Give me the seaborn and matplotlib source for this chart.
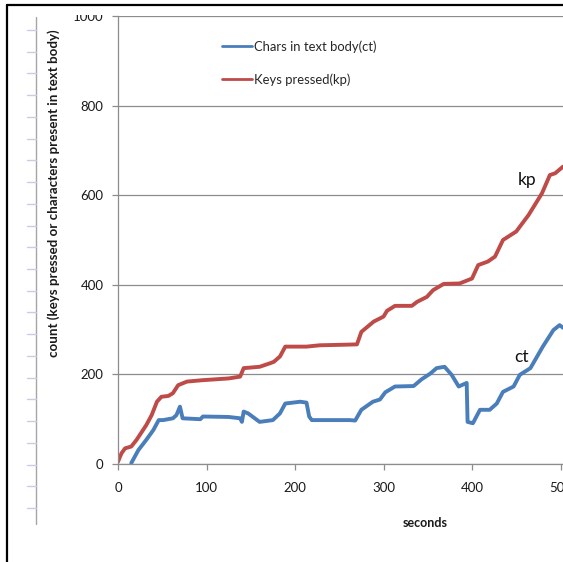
import matplotlib
matplotlib.use("Agg")
import matplotlib.pyplot as plt
from matplotlib.lines import Line2D
import pandas as pd
import seaborn as sns

# Keys pressed (kp) over time
kp_seconds = [0, 2, 4, 8, 15, 21, 27, 32, 38, 44, 49, 57, 62, 68, 78, 95, 125, 138,
              142, 160, 172, 176, 183, 189, 213, 228, 251, 270, 275, 289, 300, 304,
              313, 332, 338, 349, 356, 368, 386, 400, 407, 418, 426, 435, 450, 464,
              479, 488, 494, 503]
kp_count = [5, 15, 24, 35, 39, 54, 72, 87, 109, 139, 150, 152, 158, 176, 184, 187, 191,
            195, 214, 217, 225, 228, 240, 262, 262, 265, 266, 267, 295, 318, 329, 342,
            353, 353, 362, 373, 388, 402, 403, 414, 444, 452, 463, 500, 519, 556, 604,
            645, 649, 664]

# Characters present in the text body (ct) over time
ct_seconds = [15, 23, 32, 40, 46, 51, 62, 66, 70, 73, 93, 96, 125, 138, 140, 142, 147,
              160, 175, 183, 189, 206, 213, 216, 219, 262, 268, 275, 288, 296, 302, 313,
              334, 343, 353, 360, 369, 377, 385, 394, 395, 401, 409, 420, 428, 435, 447,
              454, 466, 480, 492, 499, 503]
ct_count = [2, 31, 54, 76, 98, 98, 102, 109, 128, 102, 100, 106, 105, 102, 94, 117, 113,
            94, 98, 113, 135, 139, 137, 106, 98, 98, 97, 121, 139, 144, 160, 173, 174,
            189, 202, 214, 217, 199, 173, 181, 94, 91, 121, 121, 135, 161, 173, 199, 214,
            262, 299, 310, 304]

series_names = ["Chars in text body(ct)", "Keys pressed(kp)"]
series_colors = ["#4a7ebb", "#be4b48"]
y_ticks = [0, 200, 400, 600, 800, 1000]
x_ticks = [0, 100, 200, 300, 400, 500, 600]

df = pd.concat([
    pd.DataFrame({"seconds": ct_seconds, "count": ct_count, "series": series_names[0]}),
    pd.DataFrame({"seconds": kp_seconds, "count": kp_count, "series": series_names[1]}),
], ignore_index=True)

sns.set_theme(style="white")
plt.rcParams["font.family"] = ["Lato", "DejaVu Sans"]

W, H = 563, 562
fig = plt.figure(figsize=(W / 100, H / 100), dpi=100)
fig.patch.set_facecolor("white")

# plot area: left edge at x=118px, bottom at y=464px, top at y=16px
ax_left, ax_bottom, ax_top = 118, 464, 16
px_per_100 = 88.5
x_max = 600
ax_w_px = px_per_100 * x_max / 100
ax = fig.add_axes([ax_left / W, (H - ax_bottom) / H,
                   ax_w_px / W, (ax_bottom - ax_top) / H])

sns.lineplot(data=df, x="seconds", y="count", hue="series", hue_order=series_names,
             palette=series_colors, linewidth=2.8, sort=False, estimator=None, ax=ax)

ax.set_xlim(0, x_max)
ax.set_ylim(0, 1000)
ax.set_xticks(x_ticks)
ax.set_yticks(y_ticks)
ax.grid(axis="y", color="#8c8c8c", linewidth=0.9)
ax.grid(axis="x", visible=False)
ax.set_axisbelow(True)
for side in ["top", "right"]:
    ax.spines[side].set_visible(False)
for side in ["left", "bottom"]:
    ax.spines[side].set_color("#8c8c8c")
    ax.spines[side].set_linewidth(0.9)
ax.tick_params(axis="both", which="major", direction="out", length=4, width=0.9,
               color="#8c8c8c", labelsize=9.5, labelcolor="#1a1a1a")
ax.tick_params(axis="y", pad=6.5, left=True)
ax.tick_params(axis="x", pad=9, bottom=True)

ax.set_xlabel("seconds", fontsize=9, fontweight="bold", color="#1a1a1a")
ax.set_ylabel("count (keys pressed or characters present in text body)", fontsize=9.6,
              fontweight="bold", color="#1a1a1a")
ax.xaxis.set_label_coords((425 - ax_left) / ax_w_px, -0.118)
ax.yaxis.set_label_coords(-(118 - 60) / ax_w_px, 0.605)

leg = ax.legend(loc="upper left", bbox_to_anchor=((217 - ax_left) / ax_w_px, 0.958),
                frameon=False, fontsize=9.4, handlelength=2.3, handletextpad=0.1,
                labelspacing=1.6, borderaxespad=0)
for line in leg.get_lines():
    line.set_linewidth(2.0)

ax.text(462, 634, "kp", fontsize=12.5, ha="center", va="center", color="#111111")
ax.text(456, 239, "ct", fontsize=12.5, ha="center", va="center", color="#111111")

# white band along the top edge, drawn above the plot area
band = fig.add_axes([0, 1 - 15 / H, 1, 15 / H], zorder=10)
band.set_facecolor("white")
band.set_xticks([])
band.set_yticks([])
for s in band.spines.values():
    s.set_visible(False)

# black frame on the left and top
fig.add_artist(Line2D([7 / W, 7 / W], [0, 1 - 5 / H], transform=fig.transFigure,
                      color="black", linewidth=1.6, zorder=20))
fig.add_artist(Line2D([7 / W, 1], [1 - 5 / H, 1 - 5 / H], transform=fig.transFigure,
                      color="black", linewidth=1.6, zorder=20))

# secondary vertical scale strip on the left
fig.add_artist(Line2D([36 / W, 36 / W], [1 - 524 / H, 1 - 17 / H], transform=fig.transFigure,
                      color="#a6a6a6", linewidth=1.0, zorder=20))
for i in range(23):
    yy = 30 + i * 21.73
    fig.add_artist(Line2D([27 / W, 36 / W], [1 - yy / H, 1 - yy / H], transform=fig.transFigure,
                          color="#c5cfdf", linewidth=1.0, zorder=20))

fig.savefig("out.png", dpi=100)
